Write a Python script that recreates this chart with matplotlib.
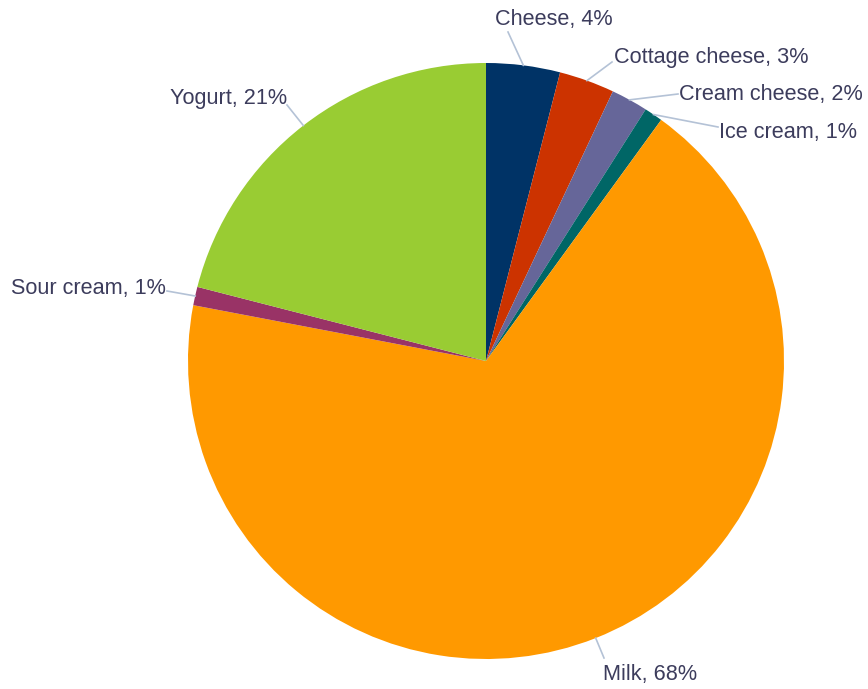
import numpy as np
import matplotlib.pyplot as plt

labels = ['Cheese', 'Cottage cheese', 'Cream cheese', 'Ice cream', 'Milk', 'Sour cream', 'Yogurt']
shares = [4, 3, 2, 1, 68, 1, 21]
colors = ['#003366', '#cc3300', '#666699', '#006666', '#ff9900', '#993366', '#99cc33']

# label layout in pixel coords (y down): connector end, text anchor, alignment
line_ends = [(508, 32), (612, 62), (678, 94), (718, 127), (604, 658), (167, 291), (287, 105)]
text_pos = [(495, 25), (614, 63), (679, 100), (719, 138), (603, 680), (166, 294), (287, 104)]
text_ha = ['left', 'left', 'left', 'left', 'left', 'right', 'right']

fig = plt.figure(figsize=(8.68, 6.89), dpi=100)
ax = fig.add_axes([0, 0, 1, 1])

# y axis is flipped below, so counterclock here reads clockwise on screen
wedges, _ = ax.pie(shares, colors=colors, startangle=-90, counterclock=True,
                   center=(486, 361), radius=298, wedgeprops=dict(linewidth=0))
ax.set_xlim(0, 868)
ax.set_ylim(689, 0)
ax.axis('off')

for w, name, pct, end, pos, ha in zip(wedges, labels, shares, line_ends, text_pos, text_ha):
    mid = np.deg2rad((w.theta1 + w.theta2) / 2)
    rx = w.center[0] + w.r * np.cos(mid)
    ry = w.center[1] + w.r * np.sin(mid)
    ax.plot([rx, end[0]], [ry, end[1]], color='#b4c2d6', lw=1.2)
    ax.text(pos[0], pos[1], f'{name}, {pct}%', ha=ha, va='baseline',
            fontsize=15.6, family='Liberation Sans', color='#3c3c5c')

fig.savefig('out.png', dpi=100)
